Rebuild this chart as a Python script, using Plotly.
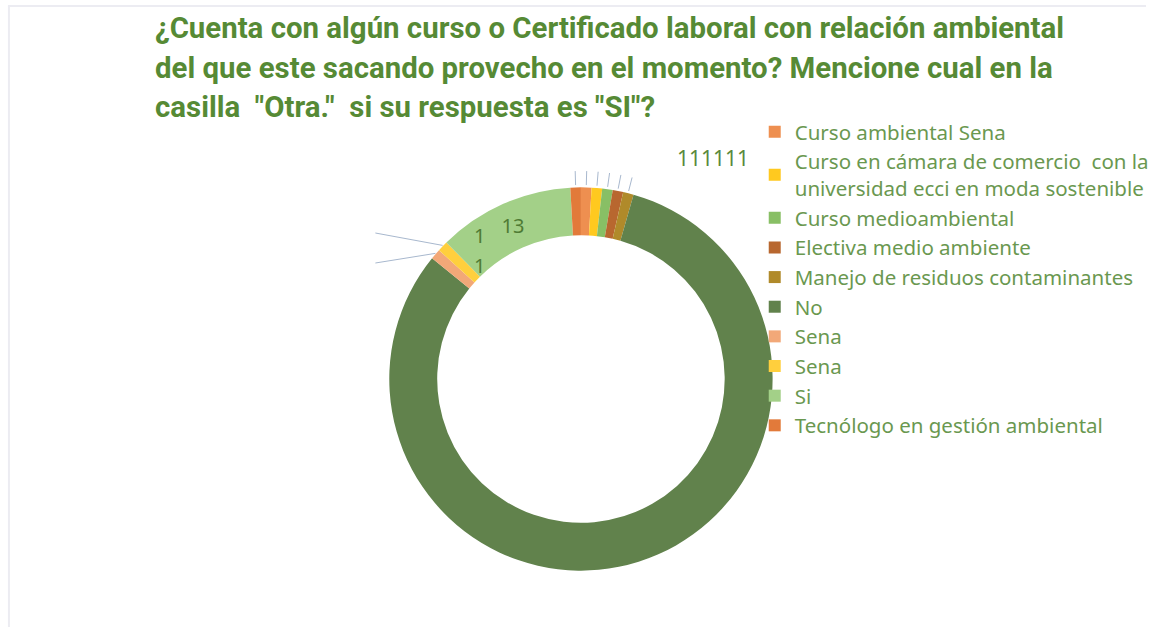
import math
import plotly.graph_objects as go

W, H = 1154, 627

# ---- data ----
labels = [
    "Curso ambiental Sena",
    "Curso en cámara de comercio  con la<br>universidad ecci en moda sostenible",
    "Curso medioambiental",
    "Electiva medio ambiente",
    "Manejo de residuos contaminantes",
    "No",
    "Sena",
    "Sena\u00a0",
    "Si",
    "Tecnólogo en gestión ambiental",
]
values = [1, 1, 1, 1, 1, 92, 1, 1, 13, 1]
colors = ["#EE8F50", "#FFC91F", "#88BF65", "#B8672F", "#B08A2A",
          "#61824C", "#F2A878", "#FFCF3D", "#A3D088", "#E27A3A"]
title_lines = [
    "¿Cuenta con algún curso o Certificado laboral con relación ambiental",
    "del que este sacando provecho en el momento? Mencione cual en la",
    "casilla  \"Otra.\"  si su respuesta es \"SI\"?",
]

GREEN = "#568A35"
LBL = "#4F7B34"


def px(x):
    return x / W


def py(y):
    return 1 - y / H


# pie geometry (pixels)
cx, cy, R = 585, 379, 193

fig = go.Figure()
fig.add_trace(go.Pie(
    labels=labels,
    values=values,
    sort=False,
    direction="clockwise",
    rotation=0,
    hole=0.75,
    marker=dict(colors=colors, line=dict(width=0)),
    texttemplate=["" if l != "Si" else "%{value}" for l in labels],
    textposition="inside",
    insidetextorientation="horizontal",
    textfont=dict(family="Noto Sans", size=20, color=LBL),
    hoverinfo="label+value",
    domain=dict(x=[px(cx - R), px(cx + R)], y=[py(cy + R), py(cy - R)]),
))

# leader lines for small slices, from data-derived mid angles
total = sum(values)
cum = 0
mids = {}
for i, v in enumerate(values):
    mids[i] = (cum + v / 2) / total * 2 * math.pi
    cum += v

shapes = []
top_idx = [9, 0, 1, 2, 3, 4]
for i in top_idx:
    a = mids[i]
    x0, y0 = cx + (R + 1) * math.sin(a), cy - (R + 1) * math.cos(a)
    x1, y1 = cx + (R + 15) * math.sin(a), cy - (R + 15) * math.cos(a)
    shapes.append(dict(type="line", xref="paper", yref="paper",
                       x0=px(x0), y0=py(y0), x1=px(x1), y1=py(y1),
                       line=dict(color="#A8B8CE", width=1)))
for i, yend in [(6, 263), (7, 233)]:
    a = mids[i]
    x0, y0 = cx + R * math.sin(a), cy - R * math.cos(a)
    shapes.append(dict(type="line", xref="paper", yref="paper",
                       x0=px(x0), y0=py(y0), x1=px(378), y1=py(yend),
                       line=dict(color="#A8B8CE", width=1)))
# faint outer frame
shapes.append(dict(type="line", xref="paper", yref="paper",
                   x0=px(9), y0=py(6), x1=px(9), y1=0,
                   line=dict(color="#ECECF2", width=2)))
shapes.append(dict(type="line", xref="paper", yref="paper",
                   x0=px(8), y0=py(6), x1=1, y1=py(6),
                   line=dict(color="#ECECF2", width=2)))

annotations = []
for line, yc in zip(title_lines, [28, 68, 107]):
    annotations.append(dict(text=line, x=px(154), y=py(yc), xref="paper", yref="paper",
                            xanchor="left", yanchor="middle", showarrow=False,
                            font=dict(family="Roboto", size=29.4, color=GREEN, weight="bold")))
annotations.append(dict(text="111111", x=px(718), y=py(158), xref="paper", yref="paper",
                        xanchor="center", yanchor="middle", showarrow=False,
                        font=dict(family="Noto Sans", size=21, color="#5A8A3E")))
for yv in [235, 265]:
    annotations.append(dict(text="1", x=px(483), y=py(yv), xref="paper", yref="paper",
                            xanchor="center", yanchor="middle", showarrow=False,
                            font=dict(family="Noto Sans", size=20, color=LBL)))

fig.update_layout(
    width=W, height=H,
    margin=dict(l=0, r=0, t=0, b=0),
    paper_bgcolor="white",
    plot_bgcolor="white",
    showlegend=True,
    legend=dict(x=px(760), y=py(112), xanchor="left", yanchor="top",
                font=dict(family="Noto Sans", size=20.5, color="#6A9850"),
                itemwidth=30, bgcolor="rgba(0,0,0,0)", traceorder="normal"),
    shapes=shapes,
    annotations=annotations,
)

fig.write_html("out.html", config={"displayModeBar": False},
               post_script="document.body.style.margin='0';document.body.style.overflow='hidden';")
